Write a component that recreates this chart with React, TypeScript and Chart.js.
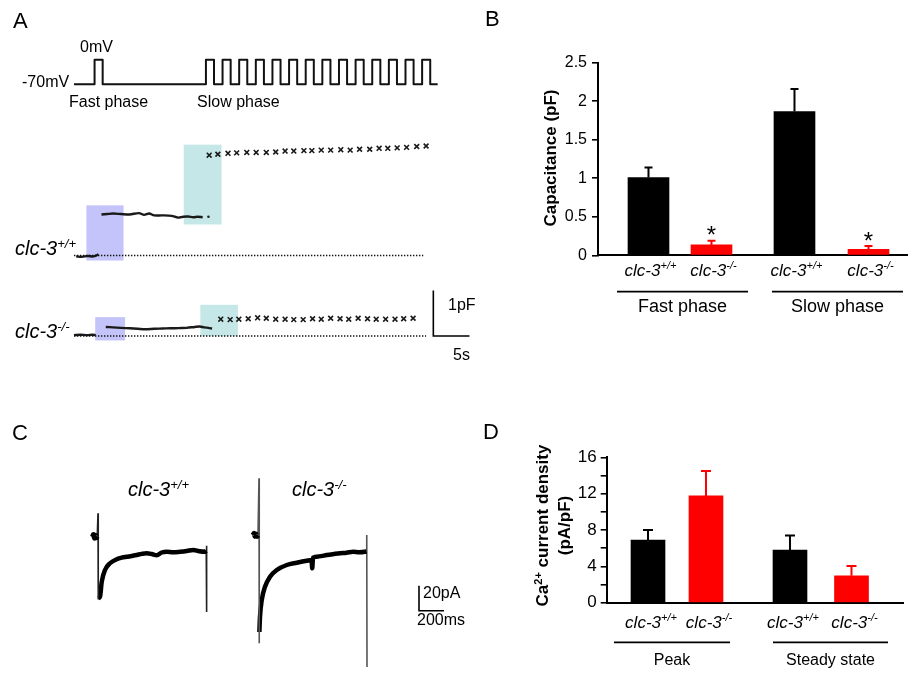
import React, { useEffect, useRef } from 'react';
import { Chart, registerables } from 'chart.js';

Chart.register(...registerables);

const FONT = '"Liberation Sans", Arial, Helvetica, sans-serif';
const INK = '#000000';
const RED = '#ff0000';
const PURPLE = 'rgb(196,196,250)';
const TEAL = 'rgb(197,231,231)';

/* ---------------- Panel A: stimulation protocol (s, mV) ---------------- */
const protoHoldMV = -70;
const protoStepMV = 0;
const protoStartS = -0.1;
const protoEndS = 50.2;
const protoPulseWidthS = 1.12;
const protoFastStartsS = [2.75];
const protoSlowStartsS = [18.15, 20.45, 22.75, 25.05, 27.35, 29.65, 31.95, 34.25, 36.55, 38.85, 41.15, 43.45, 45.75, 48.05];

/* ---------------- Panel A: capacitance traces (s, pF) ---------------- */
const wtPreTrace = [[0.2, -0.02], [1.0, -0.03], [1.8, -0.01], [2.6, -0.02], [3.1, 0.01], [3.3, 0.03]];
const wtFastTrace = [[3.7, 0.9], [4.5, 0.91], [5.3, 0.92], [6.4, 0.91], [7.6, 0.9], [8.9, 0.93], [9.6, 0.89], [10.3, 0.92], [11.0, 0.88], [12.1, 0.88], [13.4, 0.87], [14.3, 0.83], [15.0, 0.85], [15.7, 0.855], [16.4, 0.84], [17.0, 0.85], [17.7, 0.84]];
const wtStrayPoint = [[18.5, 0.85]];
const wtSlowTimes = [18.6, 19.8, 21.2, 22.4, 23.8, 25.1, 26.5, 27.8, 29.1, 30.3, 31.7, 32.8, 34.1, 35.4, 36.8, 38.1, 39.4, 40.8, 42.1, 43.3, 44.6, 45.9, 47.3, 48.6];
const wtSlowPF = [2.2, 2.22, 2.24, 2.25, 2.26, 2.26, 2.26, 2.27, 2.29, 2.29, 2.3, 2.3, 2.31, 2.31, 2.32, 2.31, 2.33, 2.33, 2.35, 2.35, 2.36, 2.37, 2.39, 2.4];
const wtBaselineSpan = [-0.1, 48.2];

const koPreTrace = [[-0.1, 0.02], [0.8, 0.03], [1.7, 0.02], [2.5, 0.03], [2.9, 0.02]];
const koFastTrace = [[4.3, 0.2], [5.3, 0.19], [6.4, 0.18], [7.6, 0.17], [8.7, 0.16], [9.8, 0.15], [11.0, 0.16], [12.1, 0.165], [13.2, 0.17], [14.4, 0.175], [15.5, 0.18], [16.6, 0.2], [17.3, 0.21], [17.9, 0.19], [18.5, 0.18], [19.0, 0.165]];
const koSlowTimes = [20.2, 21.5, 22.7, 24.0, 25.3, 26.5, 27.8, 29.1, 30.3, 31.6, 32.9, 34.1, 35.4, 36.7, 37.9, 39.2, 40.5, 41.7, 43.0, 44.3, 45.5, 46.8];
const koSlowPF = [0.37, 0.36, 0.37, 0.38, 0.4, 0.39, 0.37, 0.37, 0.36, 0.36, 0.38, 0.37, 0.39, 0.38, 0.37, 0.39, 0.38, 0.37, 0.37, 0.37, 0.38, 0.39];
const koBaselineSpan = [-0.1, 48.6];

// highlighted windows: [t0, t1, pF0, pF1]
const wtFastWindow = [1.62, 6.76, -0.11, 1.1];
const wtSlowWindow = [15.08, 20.31, 0.68, 2.43];
const koFastWindow = [2.84, 6.97, -0.096, 0.415];
const koSlowWindow = [17.38, 22.57, -0.004, 0.685];

const scaleBarA = { t: 49.6, seconds: 5, pF: 1 };

/* ---------------- Panel B: capacitance (pF) ---------------- */
const bGroups = ['Fast phase', 'Slow phase'];
const bGenotypes = ['+/+', '-/-', '+/+', '-/-'];
const bMeans = [1.01, 0.135, 1.865, 0.078];
const bSEM = [0.13, 0.055, 0.295, 0.042];
const bSignificant = [false, true, false, true];
const bYMax = 2.5;
const bYStep = 0.5;

/* ---------------- Panel C: Ca2+ currents (ms, pA) ---------------- */
const wtHoldCurrent = [[-44, 0], [-36, 2], [-28, -1], [-20, 1.5], [-12, -0.5], [-6, 0.5]];
const wtOnsetSpike = [[-6, 0.5], [0, 19], [2, -50]];
const wtCurrent = [[3, -49], [16, -47.8], [30, -35.8], [56, -26.4], [96, -21], [150, -17.8], [190, -16.5], [230, -15.8], [270, -15.2], [310, -14.4], [350, -13.5], [390, -13], [430, -13.6], [470, -14.6], [510, -12.4], [550, -11.8], [600, -12.2], [656, -11.8], [710, -11.2], [762, -10.4], [810, -11.4], [856, -11.8], [866, -11]];
const wtOffsetSpike = [[866, -11], [868, -7], [870, -60]];

const koHoldCurrent = [[-48, 1.5], [-40, 3], [-32, 0.5], [-24, 2.5], [-16, 0.5], [-8, 1.5]];
const koOnsetSpike = [[-8, 1.5], [0, 47], [2, -85]];
const koCurrent = [[3, -76], [8, -63.8], [22, -50.4], [48, -39.8], [88, -31.8], [142, -26.4], [222, -22.4], [302, -20.6], [382, -19], [420, -18.4], [426, -25], [432, -16.5], [480, -15.5], [542, -14.4], [600, -13.6], [648, -13], [700, -12.6], [754, -11.8], [800, -12.2], [848, -11.8], [860, -11.5]];
const koOffsetSpike = [[860, -11.5], [862, 1.6], [864, -104]];

const scaleBarC = { t: 2568, pA: -59, ms: 200, amp: 20 };

/* ---------------- Panel D: current density (pA/pF) ---------------- */
const dGroups = ['Peak', 'Steady state'];
const dGenotypes = ['+/+', '-/-', '+/+', '-/-'];
const dMeans = [6.9, 11.75, 5.8, 2.97];
const dSEM = [1.1, 2.75, 1.6, 1.07];
const dYMax = 16;
const dYStep = 2;
const dLabelEvery = 4;

/* ---------------- helpers ---------------- */
type Seg = [string, boolean];
const toXY = (pts: number[][]) => pts.map(([x, y]) => ({ x, y }));
const zip = (a: number[], b: number[]) => a.map((v, i) => [v, b[i]]);
const genotypeSegs = (sup: string): Seg[] => [['clc-3', false], [sup, true]];

function rangeOf(anchorPx: number, anchorVal: number, pxPerUnit: number, size: number, down: boolean) {
  if (!down) return { min: anchorVal - anchorPx / pxPerUnit, max: anchorVal + (size - anchorPx) / pxPerUnit };
  return { min: anchorVal - (size - anchorPx) / pxPerUnit, max: anchorVal + anchorPx / pxPerUnit };
}

function rich(ctx: CanvasRenderingContext2D, segs: Seg[], x: number, y: number, size: number, style: string, align: 'left' | 'center') {
  const supSize = Math.round(size * 0.64);
  const font = (s: number) => `${style} ${s}px ${FONT}`;
  const widths = segs.map(([t, sup]) => {
    ctx.font = font(sup ? supSize : size);
    return ctx.measureText(t).width;
  });
  const total = widths.reduce((a, b) => a + b, 0);
  let cx = align === 'left' ? x : x - total / 2;
  ctx.textAlign = 'left';
  ctx.textBaseline = 'alphabetic';
  segs.forEach(([t, sup], i) => {
    ctx.font = font(sup ? supSize : size);
    ctx.fillText(t, cx, sup ? y - size * 0.36 : y);
    cx += widths[i];
  });
}

function buildProtocol() {
  const pts: number[][] = [[protoStartS, protoHoldMV]];
  [...protoFastStartsS, ...protoSlowStartsS].forEach((s) => {
    pts.push([s, protoHoldMV], [s, protoStepMV], [s + protoPulseWidthS, protoStepMV], [s + protoPulseWidthS, protoHoldMV]);
  });
  pts.push([protoEndS, protoHoldMV]);
  return pts;
}

/* ---------------- Panel A ---------------- */
function makePanelA(canvas: HTMLCanvasElement) {
  const W = 490, H = 380;
  const line = (pts: number[][], yAxisID: string, extra: any = {}) => ({
    data: toXY(pts), xAxisID: 'x', yAxisID, borderColor: '#1a1a1a', borderWidth: 2.4,
    pointRadius: 0, tension: 0.3, fill: false, ...extra,
  });
  const dotted = { borderWidth: 1.5, borderDash: [1.4, 1.6], tension: 0, borderColor: '#111' };
  const clusters = { showLine: false, pointRadius: 3.4, pointStyle: 'crossRot', pointBorderWidth: 1.6, pointBorderColor: '#1a1a1a' };
  const datasets = [
    line(buildProtocol(), 'yP', { borderWidth: 2, tension: 0, borderColor: '#111', borderJoinStyle: 'round' }),
    line([[wtBaselineSpan[0], 0], [wtBaselineSpan[1], 0]], 'yW', dotted),
    line([[koBaselineSpan[0], 0], [koBaselineSpan[1], 0]], 'yK', dotted),
    line(wtPreTrace, 'yW'),
    line(wtFastTrace, 'yW'),
    line(wtStrayPoint, 'yW', { showLine: false, pointRadius: 1.3, pointBackgroundColor: '#222', pointBorderWidth: 0 }),
    line(zip(wtSlowTimes, wtSlowPF), 'yW', clusters),
    line(koPreTrace, 'yK'),
    line(koFastTrace, 'yK'),
    line(zip(koSlowTimes, koSlowPF), 'yK', clusters),
    line([[scaleBarA.t, scaleBarA.pF], [scaleBarA.t, 0], [scaleBarA.t + scaleBarA.seconds, 0]], 'yK', { borderWidth: 1.6, tension: 0, borderColor: INK }),
  ];
  const windows = [
    { w: wtFastWindow, axis: 'yW', color: PURPLE },
    { w: wtSlowWindow, axis: 'yW', color: TEAL },
    { w: koFastWindow, axis: 'yK', color: PURPLE },
    { w: koSlowWindow, axis: 'yK', color: TEAL },
  ];
  const overlay = {
    id: 'panelA',
    beforeDatasetsDraw(chart: any) {
      const ctx = chart.ctx;
      const xs = chart.scales.x;
      windows.forEach(({ w, axis, color }) => {
        const ys = chart.scales[axis];
        const x0 = xs.getPixelForValue(w[0]);
        const x1 = xs.getPixelForValue(w[1]);
        const y0 = ys.getPixelForValue(w[2]);
        const y1 = ys.getPixelForValue(w[3]);
        ctx.fillStyle = color;
        ctx.fillRect(x0, y1, x1 - x0, y0 - y1);
      });
    },
    afterDraw(chart: any) {
      const ctx = chart.ctx;
      ctx.save();
      ctx.fillStyle = INK;
      rich(ctx, [['A', false]], 13, 28, 22, 'normal', 'left');
      rich(ctx, [['0mV', false]], 80, 52, 16, 'normal', 'left');
      rich(ctx, [['-70mV', false]], 22, 87, 16, 'normal', 'left');
      rich(ctx, [['Fast phase', false]], 69, 106.5, 16, 'normal', 'left');
      rich(ctx, [['Slow phase', false]], 197, 106.5, 16, 'normal', 'left');
      rich(ctx, genotypeSegs('+/+'), 15, 255, 20, 'italic', 'left');
      rich(ctx, genotypeSegs('-/-'), 15, 338, 20, 'italic', 'left');
      rich(ctx, [['1pF', false]], 448, 310, 16, 'normal', 'left');
      rich(ctx, [['5s', false]], 453, 360, 16, 'normal', 'left');
      ctx.restore();
    },
  };
  return new Chart(canvas, {
    type: 'line',
    data: { datasets: datasets as any },
    options: {
      animation: false, responsive: false, devicePixelRatio: 1, events: [],
      layout: { padding: 0 },
      plugins: { legend: { display: false }, tooltip: { enabled: false } },
      scales: {
        x: { type: 'linear', display: false, ...rangeOf(70.7, 0, 7.4, W, false) },
        yW: { type: 'linear', display: false, ...rangeOf(257.5, 0, 47, H, true) },
        yK: { type: 'linear', display: false, ...rangeOf(340.5, 0, 47, H, true) },
        yP: { type: 'linear', display: false, ...rangeOf(81, protoHoldMV, 25.3 / 70, H, true) },
      },
    },
    plugins: [overlay],
  });
}

/* ---------------- Panel C ---------------- */
function makePanelC(canvas: HTMLCanvasElement) {
  const W = 490, H = 300, OY = 380;
  const trace = (pts: number[][], xAxisID: string, extra: any = {}) => ({
    data: toXY(pts), xAxisID, yAxisID: 'y', borderColor: '#000', borderWidth: 4.5,
    pointRadius: 0, cubicInterpolationMode: 'monotone', fill: false, ...extra,
  });
  const spike = { borderWidth: 1.6, tension: 0, cubicInterpolationMode: 'default', borderColor: '#222' };
  const datasets = [
    trace(wtHoldCurrent, 'xW', { borderWidth: 5 }),
    trace(wtOnsetSpike, 'xW', spike),
    trace(wtCurrent, 'xW'),
    trace(wtOffsetSpike, 'xW', spike),
    trace(koHoldCurrent, 'xK', { borderWidth: 5 }),
    trace(koOnsetSpike, 'xK', { ...spike, borderColor: '#555' }),
    trace(koCurrent, 'xK'),
    trace(koOffsetSpike, 'xK', { ...spike, borderColor: '#555' }),
    trace([[scaleBarC.t, scaleBarC.pA + scaleBarC.amp], [scaleBarC.t, scaleBarC.pA], [scaleBarC.t + scaleBarC.ms, scaleBarC.pA]], 'xW', { borderWidth: 1.6, cubicInterpolationMode: 'default', tension: 0 }),
  ];
  const overlay = {
    id: 'panelC',
    afterDraw(chart: any) {
      const ctx = chart.ctx;
      ctx.save();
      ctx.translate(0, -OY);
      ctx.fillStyle = INK;
      rich(ctx, [['C', false]], 12, 440, 22, 'normal', 'left');
      rich(ctx, genotypeSegs('+/+'), 128, 496, 20, 'italic', 'left');
      rich(ctx, genotypeSegs('-/-'), 292, 496, 20, 'italic', 'left');
      rich(ctx, [['20pA', false]], 423, 598, 16, 'normal', 'left');
      rich(ctx, [['200ms', false]], 417, 625, 16, 'normal', 'left');
      ctx.restore();
    },
  };
  return new Chart(canvas, {
    type: 'line',
    data: { datasets: datasets as any },
    options: {
      animation: false, responsive: false, devicePixelRatio: 1, events: [],
      layout: { padding: 0 },
      plugins: { legend: { display: false }, tooltip: { enabled: false } },
      scales: {
        xW: { type: 'linear', display: false, ...rangeOf(98, 0, 1 / 8, W, false) },
        xK: { type: 'linear', display: false, ...rangeOf(259, 0, 1 / 8, W, false) },
        y: { type: 'linear', display: false, ...rangeOf(537 - OY, 0, 1.25, H, true) },
      },
    },
    plugins: [overlay],
  });
}

/* ---------------- Bar panels (B, D) ---------------- */
interface BarSpec {
  id: string; ox: number; oy: number; w: number; h: number;
  area: { l: number; t: number; r: number; b: number };
  yMax: number; yStep: number; labelEvery: number; tickFont: number; tickPad: number;
  slots: number[]; barW: number; capHalf: number;
  means: number[]; sems: number[]; colors: string[]; sig: boolean[];
  genotypes: string[]; catDx: number; catBaseline: number; catFont: number;
  groups: string[]; groupLines: number[][]; groupLineY: number; groupBaseline: number; groupFont: number;
  titles: { segs: Seg[]; x: number }[]; titleCY: number; titleFont: number;
  letter: string; letterX: number; letterBaseline: number;
  starFont: number; starDy: number;
}

function makeBarChart(canvas: HTMLCanvasElement, s: BarSpec) {
  const overlay = {
    id: 'bars' + s.id,
    afterDraw(chart: any) {
      const ctx = chart.ctx;
      const xs = chart.scales.x;
      const ys = chart.scales.y;
      ctx.save();
      s.means.forEach((m, i) => {
        const x = xs.getPixelForValue(s.slots[i]);
        const y0 = ys.getPixelForValue(m);
        const y1 = ys.getPixelForValue(m + s.sems[i]);
        ctx.strokeStyle = s.colors[i];
        ctx.lineWidth = 2;
        ctx.beginPath();
        ctx.moveTo(x, y0);
        ctx.lineTo(x, y1);
        ctx.moveTo(x - s.capHalf, y1);
        ctx.lineTo(x + s.capHalf, y1);
        ctx.stroke();
        ctx.fillStyle = INK;
        if (s.sig[i]) {
          ctx.font = `normal ${s.starFont}px ${FONT}`;
          ctx.textAlign = 'center';
          ctx.textBaseline = 'alphabetic';
          ctx.fillText('*', x, y1 + s.starDy);
        }
        rich(ctx, genotypeSegs(s.genotypes[i]), x + s.catDx, s.catBaseline - s.oy, s.catFont, 'italic', 'center');
      });
      ctx.translate(-s.ox, -s.oy);
      ctx.fillStyle = INK;
      ctx.strokeStyle = INK;
      ctx.lineWidth = 1.7;
      s.groups.forEach((g, i) => {
        const [a, b] = s.groupLines[i];
        ctx.beginPath();
        ctx.moveTo(a, s.groupLineY);
        ctx.lineTo(b, s.groupLineY);
        ctx.stroke();
        rich(ctx, [[g, false]], (a + b) / 2, s.groupBaseline, s.groupFont, 'normal', 'center');
      });
      s.titles.forEach((t) => {
        ctx.save();
        ctx.translate(t.x, s.titleCY);
        ctx.rotate(-Math.PI / 2);
        rich(ctx, t.segs, 0, 0, s.titleFont, 'bold', 'center');
        ctx.restore();
      });
      rich(ctx, [[s.letter, false]], s.letterX, s.letterBaseline, 22, 'normal', 'left');
      ctx.restore();
    },
  };
  const aL = s.area.l - s.ox;
  const aT = s.area.t - s.oy;
  const aR = s.area.r - s.ox;
  const aB = s.area.b - s.oy;
  return new Chart(canvas, {
    type: 'bar',
    data: {
      datasets: [{
        data: s.means.map((m, i) => ({ x: s.slots[i], y: m })),
        backgroundColor: s.colors, borderWidth: 0, barThickness: s.barW,
      }] as any,
    },
    options: {
      animation: false, responsive: false, devicePixelRatio: 1, events: [],
      layout: { padding: { left: 0, top: aT, right: s.w - aR, bottom: 0 } },
      plugins: { legend: { display: false }, tooltip: { enabled: false } },
      scales: {
        x: {
          type: 'linear', min: 0, max: 10, offset: false,
          grid: { display: false, drawTicks: false },
          border: { display: true, color: INK, width: 2 },
          ticks: { display: false },
          afterFit: (sc: any) => { sc.height = s.h - aB; },
        },
        y: {
          type: 'linear', min: 0, max: s.yMax,
          grid: { display: true, drawOnChartArea: false, drawTicks: true, tickLength: 6, lineWidth: 1.6, color: INK },
          border: { display: true, color: INK, width: 2 },
          ticks: {
            stepSize: s.yStep, autoSkip: false, color: INK, padding: s.tickPad,
            font: { family: FONT, size: s.tickFont },
            callback: (v: any) => (Math.abs(v / s.labelEvery - Math.round(v / s.labelEvery)) < 1e-6 ? String(v) : ''),
          },
          afterFit: (sc: any) => { sc.width = aL; },
        },
      },
    },
    plugins: [overlay],
  } as any);
}

const specB: BarSpec = {
  id: 'B', ox: 470, oy: 0, w: 449, h: 330,
  area: { l: 598, t: 62.7, r: 907, b: 255.3 },
  yMax: bYMax, yStep: bYStep, labelEvery: bYStep, tickFont: 16, tickPad: 5,
  slots: [1.634, 3.673, 6.359, 8.754], barW: 41, capHalf: 4,
  means: bMeans, sems: bSEM, colors: [INK, RED, INK, RED], sig: bSignificant,
  genotypes: bGenotypes, catDx: 2, catBaseline: 275.5, catFont: 17,
  groups: bGroups, groupLines: [[617, 748], [772, 903]], groupLineY: 291.7, groupBaseline: 312, groupFont: 18,
  titles: [{ segs: [['Capacitance (pF)', false]], x: 555.7 }], titleCY: 158, titleFont: 17,
  letter: 'B', letterX: 485, letterBaseline: 26,
  starFont: 24, starDy: 2.5,
};

const specD: BarSpec = {
  id: 'D', ox: 470, oy: 380, w: 449, h: 300,
  area: { l: 606.7, t: 457.3, r: 903, b: 602.7 },
  yMax: dYMax, yStep: dYStep, labelEvery: dLabelEvery, tickFont: 17, tickPad: 4,
  slots: [1.394, 3.351, 6.186, 8.262], barW: 34, capHalf: 5,
  means: dMeans, sems: dSEM, colors: [INK, RED, INK, RED], sig: [false, false, false, false],
  genotypes: dGenotypes, catDx: 3, catBaseline: 627.5, catFont: 17,
  groups: dGroups, groupLines: [[614, 730], [773, 888]], groupLineY: 642.3, groupBaseline: 665, groupFont: 16,
  titles: [
    { segs: [['Ca', false], ['2+', true], [' current density', false]], x: 548 },
    { segs: [['(pA/pF)', false]], x: 569.7 },
  ],
  titleCY: 525.5, titleFont: 17,
  letter: 'D', letterX: 483, letterBaseline: 439,
  starFont: 24, starDy: 2.5,
};

function ChartBox({ x, y, w, h, make }: { x: number; y: number; w: number; h: number; make: (c: HTMLCanvasElement) => Chart }) {
  const ref = useRef<HTMLCanvasElement | null>(null);
  useEffect(() => {
    if (!ref.current) return;
    const chart = make(ref.current);
    return () => chart.destroy();
  }, []);
  return (
    <div style={{ position: 'absolute', left: x, top: y, width: w, height: h }}>
      <canvas ref={ref} width={w} height={h} style={{ display: 'block', width: w, height: h }} />
    </div>
  );
}

export default function App() {
  return (
    <div style={{ position: 'absolute', left: 0, top: 0, width: 919, height: 680, background: '#fff', overflow: 'hidden' }}>
      <ChartBox x={0} y={0} w={490} h={380} make={makePanelA} />
      <ChartBox x={470} y={0} w={449} h={330} make={(c) => makeBarChart(c, specB)} />
      <ChartBox x={0} y={380} w={490} h={300} make={makePanelC} />
      <ChartBox x={470} y={380} w={449} h={300} make={(c) => makeBarChart(c, specD)} />
    </div>
  );
}
